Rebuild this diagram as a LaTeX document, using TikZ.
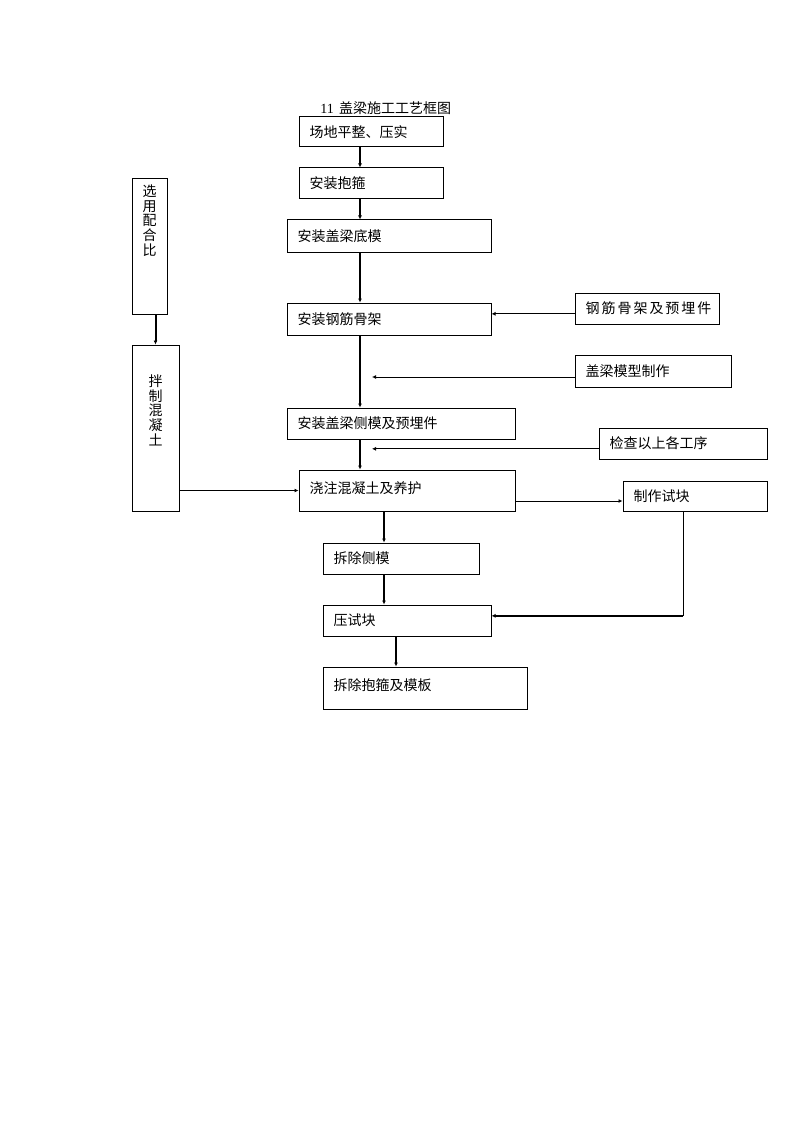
\documentclass[tikz,border=0pt]{standalone}
\usepackage{fontspec}
\setmainfont{Liberation Serif}
\newfontfamily\cjk{Noto Sans CJK SC}
\usetikzlibrary{arrows.meta}

\begin{document}
\begin{tikzpicture}[x=0.75pt,y=-0.75pt,>={Latex[length=3pt,width=3pt]},
          box/.style={draw,line width=0.75pt,inner xsep=8pt,inner ysep=0pt,align=left,font=\cjk\fontsize{10.5}{12.6}\selectfont},
          vbox/.style={draw,line width=0.75pt,inner sep=0pt},
          vtext/.style={align=center,inner sep=0pt,font=\cjk\fontsize{10.5}{11}\selectfont},
          main/.style={->,line width=1.5pt},
          side/.style={->,line width=0.75pt}]
          \useasboundingbox (0,0) rectangle (794,1123);
          \node[anchor=west,inner sep=0pt,font=\fontsize{10.5}{12.6}\selectfont](title) at (320,108){11\hspace{4pt}{\cjk 盖梁施工工艺框图}};
          % main column
          \node[box,minimum width=108pt,minimum height=22.5pt,text width=92pt](sa) at (371,132){场地平整、压实};
          \node[box,minimum width=108pt,minimum height=23.25pt,text width=92pt](bg) at (371,183.5){安装抱箍};
          \node[box,minimum width=153pt,minimum height=24pt,text width=137pt](dm) at (389,236){安装盖梁底模};
          \node[box,minimum width=153pt,minimum height=24pt,text width=137pt](gj) at (389,319){安装钢筋骨架};
          \node[box,minimum width=171pt,minimum height=23.25pt,text width=155pt](cm) at (401,423.5){安装盖梁侧模及预埋件};
          \node[box,minimum width=162pt,minimum height=30.75pt,text width=146pt,text depth=5pt](jz) at (407,490.5){浇注混凝土及养护};
          \node[box,minimum width=117pt,minimum height=23.25pt,text width=101pt](cc) at (401,558.5){拆除侧模};
          \node[box,minimum width=126pt,minimum height=23.25pt,text width=110pt](ys) at (407,620.5){压试块};
          \node[box,minimum width=153pt,minimum height=31.5pt,text width=137pt,text depth=5pt](cb) at (425,688){拆除抱箍及模板};
          % right side
          \node[box,minimum width=108pt,minimum height=23.25pt,text width=92pt](yj) at (647,308.5){\addfontfeature{LetterSpace=14}钢筋骨架及预埋件};
          \node[box,minimum width=117pt,minimum height=24pt,text width=101pt](mx) at (653,371){盖梁模型制作};
          \node[box,minimum width=126pt,minimum height=23.25pt,text width=110pt](jc) at (683,443.5){检查以上各工序};
          \node[box,minimum width=108pt,minimum height=22.5pt,text width=92pt](sk) at (695,496){制作试块};
          % left side
          \node[vbox,minimum width=26.25pt,minimum height=101.25pt,
            label={[vtext,anchor=north,yshift=-4.5pt]north:选\\用\\配\\合\\比}](xy) at (149.5,246.5){};
          \node[vbox,minimum width=35.25pt,minimum height=124.5pt,
            label={[vtext,anchor=north,yshift=-22.5pt]north:拌\\制\\混\\凝\\土}](bz) at (155.5,428){};
          \coordinate (sp) at (360,0);
          \coordinate (tp) at (372,0);
          \coordinate (sp2) at (384,0);
          \coordinate (sp3) at (396,0);
          \coordinate (sp4) at (683,0);
          \draw[main](sa.south -| sp)--(bg.north -| sp); \draw[main](bg.south -| sp)--(dm.north -| sp);
          \draw[main](dm.south -| sp)--(gj.north -| sp); \draw[main](gj.south -| sp)--(cm.north -| sp);
          \draw[main](cm.south -| sp)--(jz.north -| sp);
          \draw[side]([yshift=-4pt]yj.west)--([yshift=-4pt]yj.west -| gj.east);
          \draw[side]([yshift=-4.5pt]mx.west)--([yshift=-4.5pt]mx.west -| tp);
          \draw[side]([yshift=-4pt]jc.west)--([yshift=-4pt]jc.west -| tp);
          \draw[main](xy.south -| bz.north)--(bz.north);
          \draw[side](jz.west -| bz.east)--(jz.west);
          \draw[side]([yshift=-3.75pt]sk.west -| jz.east)--([yshift=-3.75pt]sk.west);
          \draw[main](jz.south -| sp2)--(cc.north -| sp2); \draw[main](cc.south -| sp2)--(ys.north -| sp2);
          \draw[main](ys.south -| sp3)--(cb.north -| sp3);
          \draw[line width=0.75pt](sk.south -| sp4)--([yshift=3.5pt]ys.east -| sp4);
          \draw[main]([yshift=3.5pt]ys.east -| sp4)--([yshift=3.5pt]ys.east);
        \end{tikzpicture}
\end{document}
